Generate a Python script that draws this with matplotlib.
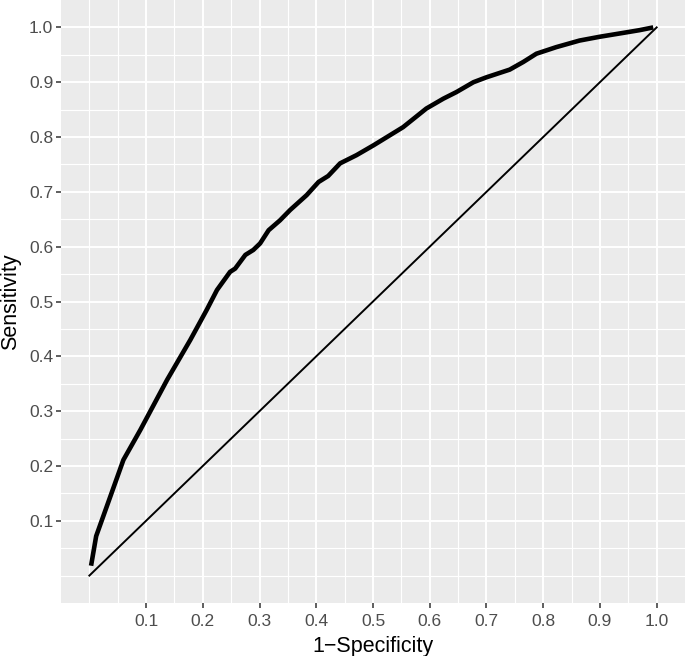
import numpy as np
from matplotlib import pyplot as plt

plt.rcParams['font.family'] = ['Liberation Sans', 'DejaVu Sans']

# ROC curve
fpr = [0.003, 0.012, 0.060, 0.090, 0.137, 0.178, 0.207, 0.225, 0.248, 0.257,
       0.275, 0.289, 0.301, 0.316, 0.336, 0.354, 0.383, 0.404, 0.421, 0.442,
       0.471, 0.501, 0.553, 0.594, 0.624, 0.647, 0.677, 0.700, 0.741, 0.765,
       0.788, 0.823, 0.864, 0.900, 0.941, 0.970, 0.994]
tpr = [0.018, 0.072, 0.211, 0.266, 0.357, 0.430, 0.485, 0.521, 0.554, 0.560,
       0.585, 0.594, 0.606, 0.630, 0.648, 0.667, 0.694, 0.718, 0.729, 0.752,
       0.767, 0.785, 0.818, 0.852, 0.870, 0.882, 0.900, 0.909, 0.923, 0.937,
       0.952, 0.964, 0.976, 0.983, 0.990, 0.995, 1.000]
diag = [0, 1]
ticks = [0.1, 0.2, 0.3, 0.4, 0.5, 0.6, 0.7, 0.8, 0.9, 1.0]
tick_labels = ['0.1', '0.2', '0.3', '0.4', '0.5', '0.6', '0.7', '0.8', '0.9', '1.0']
minor = [0.0, 0.05, 0.15, 0.25, 0.35, 0.45, 0.55, 0.65, 0.75, 0.85, 0.95]

fig = plt.figure(figsize=(6.85, 6.56), dpi=100)
ax = fig.add_axes([61/685, 53/656, 624/685, 603/656])
ax.set_facecolor('#EBEBEB')
for s in ax.spines.values():
    s.set_visible(False)

for v in minor:
    ax.axvline(v, color='white', lw=0.8, zorder=0)
    ax.axhline(v, color='white', lw=0.8, zorder=0)
for v in ticks:
    ax.axvline(v, color='white', lw=1.4, zorder=0)
    ax.axhline(v, color='white', lw=1.4, zorder=0)

ax.plot(diag, diag, color='black', lw=1.4, zorder=2)
ax.plot(fpr, tpr, color='black', lw=3.3, zorder=3, solid_capstyle='butt')

ax.set_xlim(-0.05, 1.05)
ax.set_ylim(-0.05, 1.05)
ax.set_xticks(ticks)
ax.set_xticklabels(tick_labels)
ax.set_yticks(ticks)
ax.set_yticklabels(tick_labels)
ax.tick_params(axis='both', length=3.5, width=1.1, color='#333333',
               labelcolor='#4D4D4D', labelsize=12.5, pad=2)
ax.tick_params(axis='x', pad=4.5)
ax.set_xlabel('1\u2212Specificity', fontsize=15.5, color='black', labelpad=5)
ax.set_ylabel('Sensitivity', fontsize=15.5, color='black')
ax.yaxis.set_label_coords(-0.064, 0.5)

fig.savefig('out.png', dpi=100)
